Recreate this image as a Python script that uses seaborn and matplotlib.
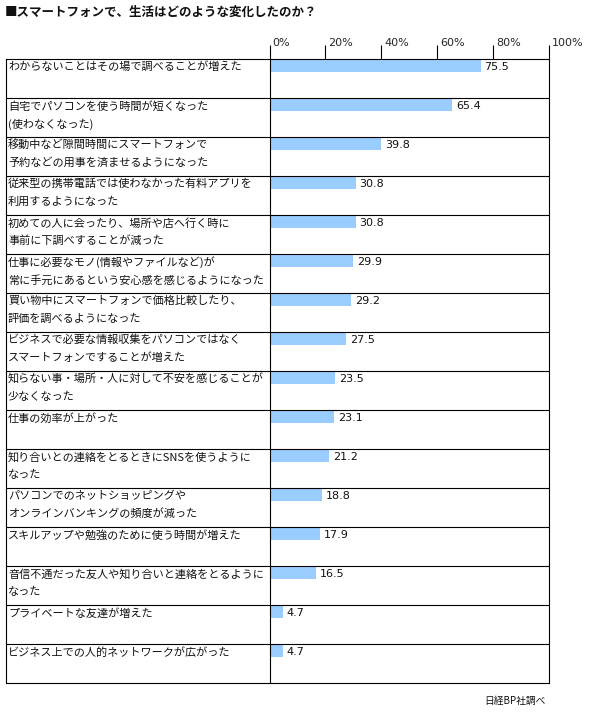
import matplotlib
matplotlib.use('Agg')
import matplotlib.pyplot as plt
import matplotlib.transforms as mtransforms
import seaborn as sns
import pandas as pd

# данные с картинки
labels = [
    'わからないことはその場で調べることが増えた',
    '自宅でパソコンを使う時間が短くなった\n(使わなくなった)',
    '移動中など隙間時間にスマートフォンで\n予約などの用事を済ませるようになった',
    '従来型の携帯電話では使わなかった有料アプリを\n利用するようになった',
    '初めての人に会ったり、場所や店へ行く時に\n事前に下調べすることが減った',
    '仕事に必要なモノ(情報やファイルなど)が\n常に手元にあるという安心感を感じるようになった',
    '買い物中にスマートフォンで価格比較したり、\n評価を調べるようになった',
    'ビジネスで必要な情報収集をパソコンではなく\nスマートフォンですることが増えた',
    '知らない事・場所・人に対して不安を感じることが\n少なくなった',
    '仕事の効率が上がった',
    '知り合いとの連絡をとるときにSNSを使うように\nなった',
    'パソコンでのネットショッピングや\nオンラインバンキングの頻度が減った',
    'スキルアップや勉強のために使う時間が増えた',
    '音信不通だった友人や知り合いと連絡をとるように\nなった',
    'プライベートな友達が増えた',
    'ビジネス上での人的ネットワークが広がった',
]
values = [75.5, 65.4, 39.8, 30.8, 30.8, 29.9, 29.2, 27.5, 23.5, 23.1, 21.2, 18.8, 17.9, 16.5, 4.7, 4.7]
tick_values = [0, 20, 40, 60, 80, 100]
tick_labels = ['0%', '20%', '40%', '60%', '80%', '100%']
title = '■スマートフォンで、生活はどのような変化したのか？'
source = '日経BP社調べ'

df = pd.DataFrame({'label': labels, 'value': values})

sns.set_style('white')
plt.rcParams['font.family'] = ['Noto Sans CJK JP', 'DejaVu Sans']

W, H = 595, 726
fig = plt.figure(figsize=(W / 100, H / 100), dpi=100)
fig.patch.set_facecolor('white')

# таблица в пикселях
left, right, top, bottom = 5.5, 549, 59, 683
zero_x = 269.5
ax = fig.add_axes([left / W, 1 - bottom / H, (right - left) / W, (bottom - top) / H])

px_per_unit = (right - zero_x) / 100
xmin = -(zero_x - left) / px_per_unit
n = len(labels)
row_px = (bottom - top) / n
bar_w = 12 / row_px
row_off = bar_w / 2 + 1 / row_px  # верх строки относительно центра столбца

sns.barplot(data=df, x='value', y='label', orient='h', color='#99CCFF',
            saturation=1, width=bar_w, linewidth=0, ax=ax)

ax.set_xlim(xmin, 100)
ax.set_ylim(n - row_off, -row_off)
ax.set_xlabel('')
ax.set_ylabel('')
ax.set_yticks([])

# линии таблицы
for i in range(1, n):
    ax.axhline(i - row_off, color='black', lw=0.8)
ax.axvline(0, color='black', lw=0.8)
for s in ax.spines.values():
    s.set_color('black')
    s.set_linewidth(0.8)
    s.set_visible(True)

# подписи строк
for i, lab in enumerate(labels):
    for j, line in enumerate(lab.split('\n')):
        y = i - row_off + (8 + 18 * j) / row_px
        ax.text(xmin + 2.5 / px_per_unit, y, line, ha='left', va='center',
                fontsize=8, color='#111111')

# значения
for i, v in enumerate(values):
    ax.text(v + 4 / px_per_unit, i + 0.03, f'{v:.1f}', ha='left', va='center',
            fontsize=8, family='DejaVu Sans', color='#111111')

# верхняя шкала
ax.xaxis.tick_top()
ax.set_xticks(tick_values)
ax.set_xticklabels(tick_labels, family='DejaVu Sans')
ax.tick_params(axis='x', length=10, width=0.8, color='black', direction='out',
               pad=-2, labelsize=8, top=True, bottom=False)
offset = mtransforms.ScaledTranslation(3 / 100, 0, fig.dpi_scale_trans)
for lbl in ax.get_xticklabels():
    lbl.set_horizontalalignment('left')
    lbl.set_transform(lbl.get_transform() + offset)

fig.text(5 / W, 1 - 12 / H, title, ha='left', va='center', fontsize=9,
         fontweight='bold', color='#111111')
fig.text(546 / W, 1 - 701 / H, source, ha='right', va='center', fontsize=7,
         color='#111111')

fig.savefig('out.png', dpi=100, facecolor='white')
